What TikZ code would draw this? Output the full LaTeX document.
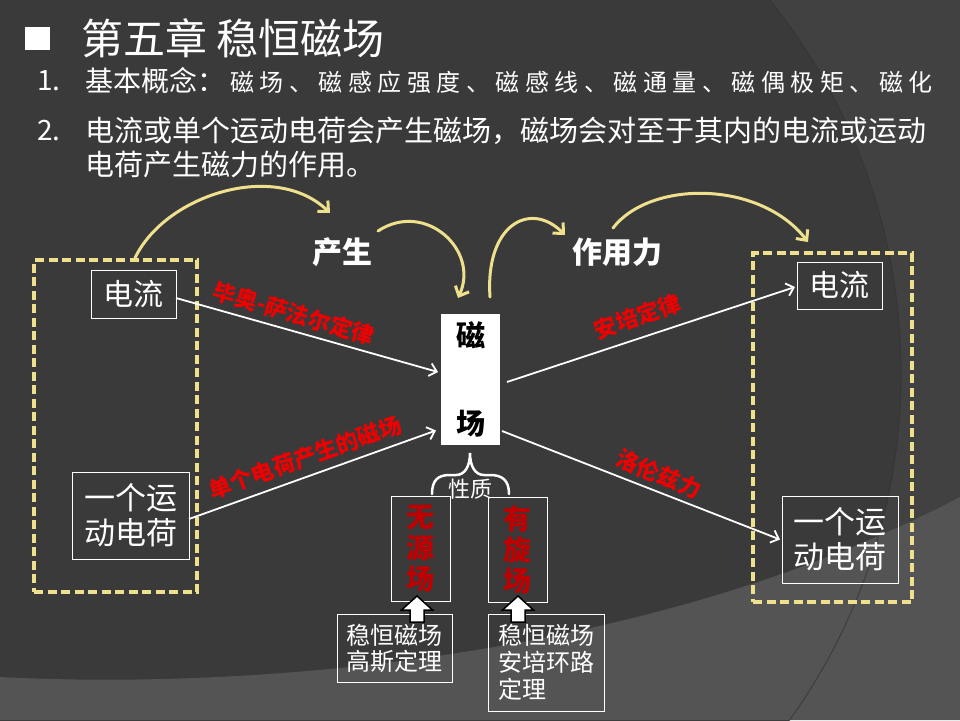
\documentclass[tikz,border=0pt]{standalone}
\usepackage{fontspec}
\setmainfont{Noto Sans CJK SC}
\usetikzlibrary{arrows.meta,calc}

\definecolor{bgbase}{HTML}{3A3A3A}
\definecolor{bgright}{HTML}{414141}
\definecolor{bgfloor}{HTML}{545454}
\definecolor{bgseam}{HTML}{333333}
\definecolor{gold}{HTML}{EFE08E}
\definecolor{lawred}{HTML}{F00000}
\definecolor{deepred}{HTML}{C00000}

\newcommand{\setfs}[2]{\fontsize{#1}{#2}\selectfont}

\begin{document}
\begin{tikzpicture}[x=1pt,y=-1pt,
  every node/.style={inner sep=0pt, outer sep=0pt, text=white},
  whitebox/.style={draw=white, line width=1pt, align=center},
  lawlabel/.style={text=lawred, font=\bfseries\setfs{22.5}{24}},
  goldarrow/.style={draw=gold, line width=3pt, line cap=round,
    -{Straight Barb[length=8pt,width=15pt,line width=3pt]}},
  linkarrow/.style={draw=white, line width=1.8pt,
    -{Straight Barb[length=7pt,width=13pt]}},
  groupbox/.style={draw=gold, line width=3.5pt, dash pattern=on 9pt off 4.5pt},
  blockarrow/.style={fill=white, draw=black, line width=1.5pt, line join=miter},
]
% ---- slide background ----
\useasboundingbox (0,0) rectangle (960,720);
\begin{scope}
  \clip (0,0) rectangle (960,720);
  \fill[bgright] (0,0) rectangle (960,720);
  \fill[bgbase] (305,373) circle[radius=596pt];
  \fill[bgfloor] (0,677) .. controls (250,690) and (650,660) .. (960,497)
    -- (960,720) -- (0,720) -- cycle;
  \draw[bgseam, line width=1.2pt, opacity=0.6] (305,373) circle[radius=596pt];
\end{scope}

% ---- heading and notes ----
\fill[white] (25,27) rectangle (50,50);
\node[anchor=west, font=\setfs{42}{46}] (title) at (81,38) {第五章 稳恒磁场};
\node[anchor=west, font=\setfs{28}{30}] (num1) at (37,81) {1.};
\node[anchor=west, font=\setfs{28}{30}] (item1) at (85,81) {基本概念：};
\node[anchor=west, font=\setfs{24}{26}\addfontfeature{LetterSpace=23}] (terms) at (230,82)
  {磁场、磁感应强度、磁感线、磁通量、磁偶极矩、磁化};
\node[anchor=west, font=\setfs{28}{30}] (num2) at (37,131) {2.};
\node[anchor=west, align=left, font=\setfs{29}{34}] (item2) at (85,148)
  {电流或单个运动电荷会产生磁场，磁场会对至于其内的电流或运动\\电荷产生磁力的作用。};

% ---- source / target groups ----
\node[groupbox, minimum width=163pt, minimum height=332pt] (srcgrp) at (115.5,426) {};
\node[groupbox, minimum width=159pt, minimum height=349pt] (dstgrp) at (832.5,427.5) {};

\node[whitebox, minimum width=85pt, minimum height=48pt, font=\setfs{30}{34}] (curL) at (133.5,294) {电流};
\node[whitebox, minimum width=117pt, minimum height=87pt, font=\setfs{31}{35}] (chgL) at (130.5,515.5) {一个运\\动电荷};
\node[whitebox, minimum width=85pt, minimum height=47pt, font=\setfs{30}{34}] (curR) at (839.5,285.5) {电流};
\node[whitebox, minimum width=116pt, minimum height=87pt, font=\setfs{31}{35}] (chgR) at (840,539.5) {一个运\\动电荷};

% ---- the field ----
\node[fill=white, minimum width=59pt, minimum height=131pt, text=black, align=center,
  font=\bfseries\setfs{29}{88}] (field) at (470.5,379.5) {磁\\场};

\node[font=\bfseries\setfs{30}{32}] (gen) at (342,252) {产生};
\node[font=\bfseries\setfs{30}{32}] (act) at (617,252) {作用力};

% ---- properties ----
\draw[white, line width=2.5pt, line cap=round]
  (432,494) .. controls (432,480) and (438,475) .. (450,475) -- (456,475)
  .. controls (465,475) and (470,466) .. (470,453)
  .. controls (470,466) and (475,475) .. (484,475) -- (490,475)
  .. controls (502,475) and (509,480) .. (509,494);
\node[font=\setfs{22}{24}] (prop) at (470,489) {性质};

\node[whitebox, minimum width=59pt, minimum height=105pt, text=deepred,
  font=\bfseries\setfs{28}{31}] (nosrc) at (420.5,548.5) {无\\源\\场};
\node[whitebox, minimum width=59pt, minimum height=105pt, text=deepred,
  font=\bfseries\setfs{28}{31}] (curly) at (517.5,549.5) {有\\旋\\场};

\node[whitebox, minimum width=115pt, minimum height=68pt, align=left,
  font=\setfs{24}{26}] (gauss) at (394.5,648) {稳恒磁场\\高斯定理};
\node[whitebox, minimum width=116pt, minimum height=97pt, align=left,
  font=\setfs{24}{27}] (loop) at (546,662.5) {稳恒磁场\\安培环路\\定理};

\coordinate (upA) at ($(nosrc.south)+(-3.5,-5)$);
\coordinate (upB) at ($(curly.south)+(0.5,-6)$);
\draw[blockarrow] (upA) -- ++(-15.5,14) -- ++(8.5,0) -- ++(0,12) -- ++(14,0)
  -- ++(0,-12) -- ++(8.5,0) -- cycle;
\draw[blockarrow] (upB) -- ++(-15.5,14) -- ++(8.5,0) -- ++(0,12) -- ++(14,0)
  -- ++(0,-12) -- ++(8.5,0) -- cycle;

% ---- links through the field ----
\coordinate (inA) at ($(field.west)+(-3,-7.5)$);
\coordinate (inB) at ($(field.west)+(-5,51)$);
\coordinate (outA) at ($(field.east)+(7,2.5)$);
\coordinate (outB) at ($(field.east)+(2,51.5)$);
\draw[linkarrow] ($(curL.east)+(0,4)$) -- (inA);
\draw[linkarrow] ($(chgL.east)+(0,3.5)$) -- (inB);
\draw[linkarrow] (outA) -- ($(curR.west)+(-2,1.5)$);
\draw[linkarrow] (outB) -- ($(chgR.west)+(-2,0)$);

\node[lawlabel, rotate=-16.5] (lawBS) at (294,313.5) {毕奥-萨法尔定律};
\node[lawlabel, rotate=19.5] (lawQ) at (305,457.5) {单个电荷产生的磁场};
\node[lawlabel, rotate=19] (lawA) at (637.5,316.5) {安培定律};
\node[lawlabel, rotate=-23] (lawL) at (659,474) {洛伦兹力};

% ---- curved flow arrows ----
\coordinate (g1s) at ($(srcgrp.north)+(19.5,-2)$);
\coordinate (g1e) at (330,213);
\coordinate (g2s) at (378,231);
\coordinate (g2e) at ($(field.north)+(-12.5,-16)$);
\coordinate (g3s) at ($(field.north)+(19.5,-17)$);
\coordinate (g3e) at (565,235);
\coordinate (g4s) at (613,228);
\coordinate (g4e) at ($(dstgrp.north)+(-24.5,-11)$);
\draw[goldarrow] (g1s) .. controls (165,195) and (275,160) .. (g1e);
\draw[goldarrow] (g2s) .. controls (425,200) and (480,250) .. (g2e);
\draw[goldarrow] (g3s) .. controls (485,225) and (530,200) .. (g3e);
\draw[goldarrow] (g4s) .. controls (650,180) and (760,180) .. (g4e);
\end{tikzpicture}
\end{document}
